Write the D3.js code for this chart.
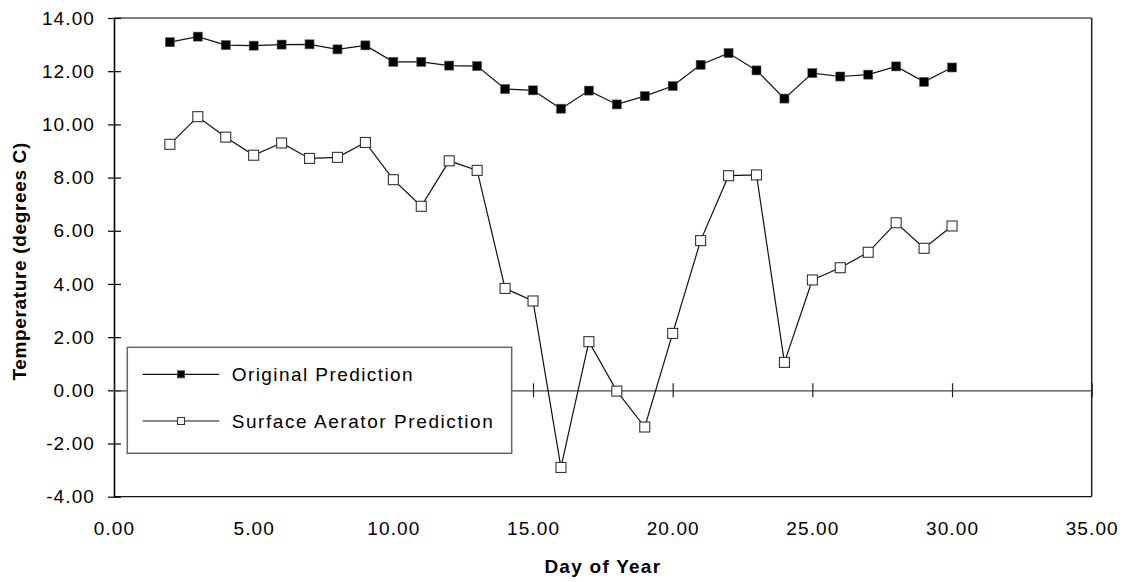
<!DOCTYPE html>
<html>
<head>
<meta charset="utf-8">
<script src="https://cdn.jsdelivr.net/npm/d3@7/dist/d3.min.js"></script>
<style>
  html, body { margin: 0; padding: 0; background: #fff; }
  svg { display: block; }
  text { font-family: "Liberation Sans", Arial, sans-serif; fill: #000; }
</style>
</head>
<body>
<svg id="chart" width="1127" height="582"></svg>
<script>
// Day of year for each modelled temperature
const days = [2, 3, 4, 5, 6, 7, 8, 9, 10, 11, 12, 13, 14, 15, 16,
              17, 18, 19, 20, 21, 22, 23, 24, 25, 26, 27, 28, 29, 30];

// Predicted water temperature, degrees C
const originalPrediction = [13.09, 13.30, 12.98, 12.96, 13.00, 13.01, 12.82, 12.97, 12.35, 12.35,
                            12.21, 12.19, 11.33, 11.28, 10.59, 11.27, 10.75, 11.06, 11.44, 12.24,
                            12.68, 12.03, 10.97, 11.93, 11.80, 11.87, 12.18, 11.60, 12.14];
const aeratorPrediction = [9.25, 10.29, 9.52, 8.84, 9.30, 8.72, 8.76, 9.32, 7.92, 6.92,
                           8.63, 8.27, 3.83, 3.36, -2.90, 1.83, -0.03, -1.38, 2.14, 5.63,
                           8.07, 8.10, 1.05, 4.15, 4.61, 5.19, 6.30, 5.34, 6.18];

const seriesNames = ["Original Prediction", "Surface Aerator Prediction"];
const xTicks = [0, 5, 10, 15, 20, 25, 30, 35];
const yTicks = [-4, -2, 0, 2, 4, 6, 8, 10, 12, 14];
const xTitle = "Day of Year";
const yTitle = "Temperature (degrees C)";

const W = 1127, H = 582;
const m = { left: 114, right: 35.3, top: 18, bottom: 85.3 };
const FONT = 19, LS = 1.1;

const svg = d3.select("#chart");
const x = d3.scaleLinear().domain([0, 35]).range([m.left, W - m.right]);
const y = d3.scaleLinear().domain([-4, 14]).range([H - m.bottom, m.top]);
const fmt = d => d.toFixed(2);

// Plot frame: grey top edge, dark right and bottom edges
svg.append("line").attr("x1", x(0)).attr("x2", x(35)).attr("y1", y(14)).attr("y2", y(14))
  .attr("stroke", "#808080").attr("stroke-width", 2);
svg.append("line").attr("x1", x(35)).attr("x2", x(35)).attr("y1", y(14)).attr("y2", y(-4))
  .attr("stroke", "#222").attr("stroke-width", 1.5);
svg.append("line").attr("x1", x(0)).attr("x2", x(35)).attr("y1", y(-4)).attr("y2", y(-4))
  .attr("stroke", "#111").attr("stroke-width", 1.2);

// Y axis with ticks crossing the axis line
const yAxis = svg.append("g").attr("transform", `translate(${x(0)},0)`)
  .call(d3.axisLeft(y).tickValues(yTicks).tickFormat(fmt).tickSizeInner(6).tickSizeOuter(0).tickPadding(13));
yAxis.select(".domain").attr("stroke", "#000").attr("stroke-width", 1.6);
yAxis.selectAll(".tick line").attr("x1", 7).attr("x2", -6).attr("stroke", "#000").attr("stroke-width", 1.2);
yAxis.selectAll(".tick text").attr("font-size", FONT).attr("letter-spacing", LS)
  .attr("font-family", "Liberation Sans, Arial, sans-serif").attr("fill", "#000");

// X axis drawn through zero, labels along the bottom edge
const x0 = svg.append("g").attr("transform", `translate(0,${y(0)})`)
  .call(d3.axisBottom(x).tickValues(xTicks).tickFormat("").tickSizeInner(7).tickSizeOuter(0));
x0.select(".domain").attr("stroke", "#444").attr("stroke-width", 1.2);
x0.selectAll(".tick line").attr("y1", -7).attr("y2", 7).attr("stroke", "#222").attr("stroke-width", 1.2);

const xLab = svg.append("g").attr("transform", `translate(0,${y(-4)})`)
  .call(d3.axisBottom(x).tickValues(xTicks).tickFormat(fmt).tickSize(0).tickPadding(25));
xLab.select(".domain").remove();
xLab.selectAll(".tick text").attr("font-size", FONT).attr("letter-spacing", LS)
  .attr("font-family", "Liberation Sans, Arial, sans-serif").attr("fill", "#000");

// Axis titles
svg.append("text").attr("x", (x(0) + x(35)) / 2).attr("y", 573)
  .attr("text-anchor", "middle").attr("font-size", FONT).attr("font-weight", "bold")
  .attr("letter-spacing", 1.25).text(xTitle);
svg.append("text").attr("transform", `translate(26,${(y(14) + y(-4)) / 2 + 4}) rotate(-90)`)
  .attr("text-anchor", "middle").attr("font-size", FONT).attr("font-weight", "bold")
  .attr("letter-spacing", 0.65).text(yTitle);

// Series
const line = d3.line().x(d => x(d[0])).y(d => y(d[1]));
const orig = days.map((d, i) => [d, originalPrediction[i]]);
const aer = days.map((d, i) => [d, aeratorPrediction[i]]);

svg.append("path").datum(orig).attr("d", line).attr("fill", "none")
  .attr("stroke", "#111").attr("stroke-width", 1.2);
svg.append("path").datum(aer).attr("d", line).attr("fill", "none")
  .attr("stroke", "#111").attr("stroke-width", 1.2);

const S1 = 9, S2 = 10;
svg.append("g").selectAll("rect").data(orig).join("rect")
  .attr("x", d => x(d[0]) - S1 / 2).attr("y", d => y(d[1]) - S1 / 2)
  .attr("width", S1).attr("height", S1).attr("fill", "#000").attr("stroke", "#555").attr("stroke-width", 0.6);
svg.append("g").selectAll("rect").data(aer).join("rect")
  .attr("x", d => x(d[0]) - S2 / 2).attr("y", d => y(d[1]) - S2 / 2)
  .attr("width", S2).attr("height", S2).attr("fill", "#fff").attr("stroke", "#333").attr("stroke-width", 1.1);

// Legend
const lg = svg.append("g");
lg.append("rect").attr("x", 127.3).attr("y", 347.3).attr("width", 384.4).attr("height", 106)
  .attr("fill", "#fff").attr("stroke", "#666").attr("stroke-width", 1.5);
const rows = [374.3, 421];
const legendSpacing = [1.43, 1.57];
seriesNames.forEach((name, i) => {
  const ry = rows[i];
  lg.append("line").attr("x1", 142.7).attr("x2", 219.3).attr("y1", ry).attr("y2", ry)
    .attr("stroke", "#111").attr("stroke-width", 1.2);
  const s = 7;
  lg.append("rect").attr("x", 181 - s / 2).attr("y", ry - s / 2).attr("width", s).attr("height", s)
    .attr("fill", i === 0 ? "#000" : "#fff").attr("stroke", i === 0 ? "#444" : "#333").attr("stroke-width", 1);
  lg.append("text").attr("x", 231.7).attr("y", ry).attr("dy", "0.35em")
    .attr("font-size", FONT).attr("letter-spacing", legendSpacing[i]).text(name);
});
</script>
</body>
</html>
